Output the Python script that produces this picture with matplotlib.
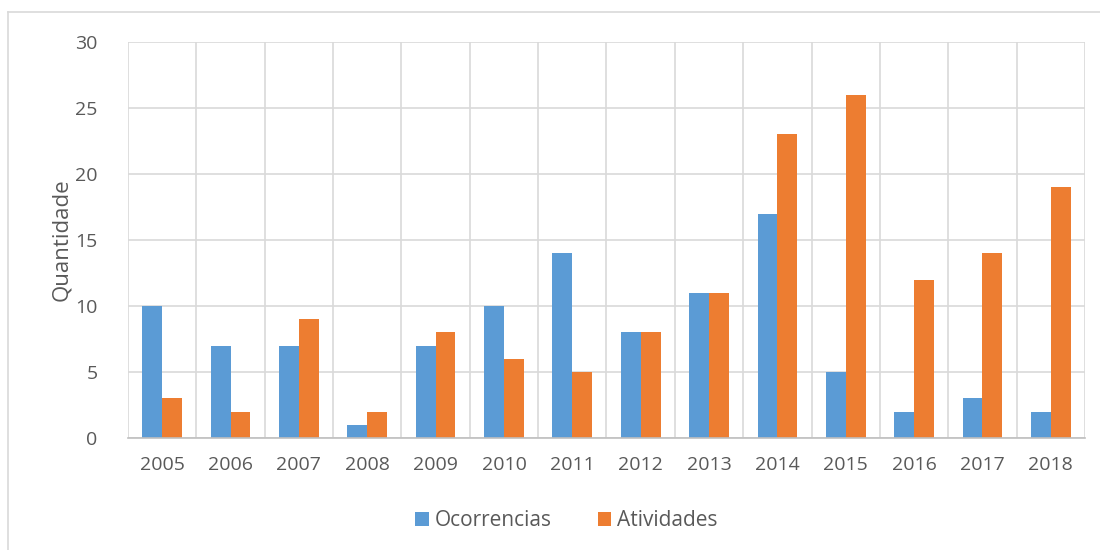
import matplotlib
matplotlib.use("Agg")
import matplotlib.pyplot as plt
import numpy as np
from matplotlib.lines import Line2D

years = ["2005", "2006", "2007", "2008", "2009", "2010", "2011", "2012",
         "2013", "2014", "2015", "2016", "2017", "2018"]
ocorrencias = [10, 7, 7, 1, 7, 10, 14, 8, 11, 17, 5, 2, 3, 2]
atividades = [3, 2, 9, 2, 8, 6, 5, 8, 11, 23, 26, 12, 14, 19]

plt.rcParams['font.family'] = ['Open Sans', 'DejaVu Sans']
txt = '#595959'

fig = plt.figure(figsize=(11, 5.5), dpi=100)
ax = fig.add_axes([128/1100, 1-438/550, (1085-128)/1100, (438-42)/550])

x = np.arange(len(years))
w = 0.29
ax.bar(x - w/2, ocorrencias, w, color='#5B9BD5', label='Ocorrencias', zorder=3)
ax.bar(x + w/2, atividades, w, color='#ED7D31', label='Atividades', zorder=3)

ax.set_xlim(-0.5, len(years) - 0.5)
ax.set_ylim(0, 30)
ax.set_yticks(range(0, 31, 5))
ax.set_xticks(x)
ax.set_xticklabels(years)
ax.tick_params(axis='both', length=0, labelsize=14, colors=txt)
ax.tick_params(axis='x', pad=13)
ax.tick_params(axis='y', pad=22)

ax.yaxis.grid(True, color='#D9D9D9', linewidth=1.2, zorder=0)
for b in np.arange(-0.5, len(years), 1.0):
    ax.axvline(b, color='#D9D9D9', linewidth=1.2, zorder=0)
for s in ['top', 'right', 'left']:
    ax.spines[s].set_visible(False)
ax.spines['bottom'].set_color('#BFBFBF')
ax.spines['bottom'].set_linewidth(1.2)
ax.spines['bottom'].set_zorder(4)

ax.set_ylabel('Quantidade', fontsize=16, color=txt, labelpad=2)

leg = fig.legend(loc='center', bbox_to_anchor=(0.515, 1-521/550), ncol=2,
                 frameon=False, fontsize=15, handlelength=0.65, handleheight=0.65,
                 columnspacing=2.2, handletextpad=0.3)
for t in leg.get_texts():
    t.set_color(txt)

# chart border
fig.add_artist(Line2D([8/1100, 8/1100], [0, 1-12/550], transform=fig.transFigure,
                      color='#D9D9D9', linewidth=1.2))
fig.add_artist(Line2D([8/1100, 1], [1-12/550, 1-12/550], transform=fig.transFigure,
                      color='#D9D9D9', linewidth=1.2))

fig.savefig('out.png', dpi=100)
